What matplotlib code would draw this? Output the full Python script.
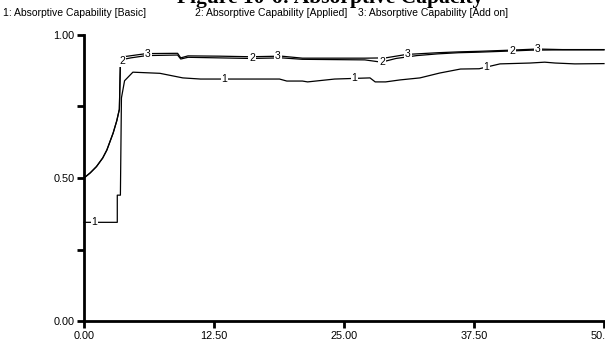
import numpy as np
import matplotlib
matplotlib.use("Agg")
import matplotlib.pyplot as plt

# Series values (time, value)
basic_t = [0, 3.2, 3.2, 3.5, 3.6, 3.9, 4.7, 7.3, 9.5, 11.2, 18.8, 19.5, 21.0, 21.5, 24.1,
           27.5, 28.0, 29.0, 30.4, 32.3, 34.2, 35.2, 36.2, 38.0, 40.0, 42.9, 44.3, 45.3, 47.2, 50]
basic_v = [0.345, 0.345, 0.44, 0.44, 0.78, 0.84, 0.87, 0.866, 0.85, 0.846, 0.846, 0.839, 0.839, 0.836, 0.846,
           0.85, 0.836, 0.836, 0.843, 0.85, 0.867, 0.874, 0.881, 0.882, 0.899, 0.902, 0.905, 0.902, 0.899, 0.90]

applied_t = [0, 0.6, 1.2, 1.8, 2.2, 2.8, 3.15, 3.4, 3.5, 3.8, 4.5, 6, 9, 9.3, 10, 13, 16, 19, 21,
             24, 27, 28.6, 30, 32, 34, 36, 38, 41, 43, 46, 50]
applied_v = [0.50, 0.518, 0.54, 0.57, 0.598, 0.657, 0.70, 0.74, 0.90, 0.915, 0.92, 0.928, 0.93, 0.916, 0.922,
             0.92, 0.918, 0.92, 0.915, 0.914, 0.913, 0.905, 0.918, 0.928, 0.934, 0.938, 0.94, 0.944, 0.947,
             0.948, 0.948]

addon_t = [0, 0.6, 1.2, 1.8, 2.2, 2.8, 3.15, 3.4, 3.5, 4, 6, 9, 9.3, 10, 13, 16, 19, 21,
           24, 27, 29, 31, 34, 36, 38, 41, 43.6, 46, 50]
addon_v = [0.50, 0.518, 0.54, 0.57, 0.598, 0.657, 0.70, 0.74, 0.91, 0.925, 0.935, 0.936, 0.92, 0.927,
           0.926, 0.924, 0.926, 0.919, 0.919, 0.919, 0.92, 0.932, 0.938, 0.941, 0.943, 0.947, 0.951,
           0.949, 0.949]

legend_labels = ["1: Absorptive Capability [Basic]",
                 "2: Absorptive Capability [Applied]",
                 "3: Absorptive Capability [Add on]"]
x_ticks = [0, 12.5, 25, 37.5, 50]
y_ticks = [0, 0.25, 0.5, 0.75, 1.0]
y_tick_labels = ["0.00", "", "0.50", "", "1.00"]

fig = plt.figure(figsize=(6.05, 3.41), dpi=100)
ax = fig.add_axes([84 / 605, 20 / 341, 520 / 605, 286 / 341])

series = [(basic_t, basic_v, "1", [1.0, 13.5, 26.0, 38.7]),
          (applied_t, applied_v, "2", [3.65, 16.15, 28.65, 41.15]),
          (addon_t, addon_v, "3", [6.15, 18.65, 31.15, 43.65])]

for t, v, num, label_pos in series:
    ax.plot(t, v, color="black", linewidth=0.9, clip_on=False)
    for lp in label_pos:
        ax.text(lp, np.interp(lp, t, v), num, fontsize=7.5, family="Liberation Sans",
                ha="center", va="center",
                bbox=dict(facecolor="white", edgecolor="none", pad=0.6))

ax.set_xlim(0, 50)
ax.set_ylim(0, 1)
ax.set_xticks(x_ticks)
ax.set_xticklabels(["%.2f" % x for x in x_ticks])
ax.set_yticks(y_ticks)
ax.set_yticklabels(y_tick_labels)
for s in ["top", "right"]:
    ax.spines[s].set_visible(False)
for s in ["left", "bottom"]:
    ax.spines[s].set_linewidth(2)
ax.tick_params(direction="out", length=5, width=2, labelsize=7.8, pad=2)
for lab in ax.get_xticklabels() + ax.get_yticklabels():
    lab.set_family("Liberation Sans")

# title, clipped at the top of the picture
fig.text(330 / 605, 1 - 3 / 341, "Figure 10-6: Absorptive Capacity", fontsize=15.5,
         family="Liberation Serif", fontweight="bold", ha="center", va="baseline")

legend_x = [3, 195, 358]
for lx, lab in zip(legend_x, legend_labels):
    fig.text(lx / 605, 1 - 13 / 341, lab, fontsize=7.5, family="Liberation Sans",
             ha="left", va="center")

fig.savefig("out.png", dpi=100, facecolor="white")
